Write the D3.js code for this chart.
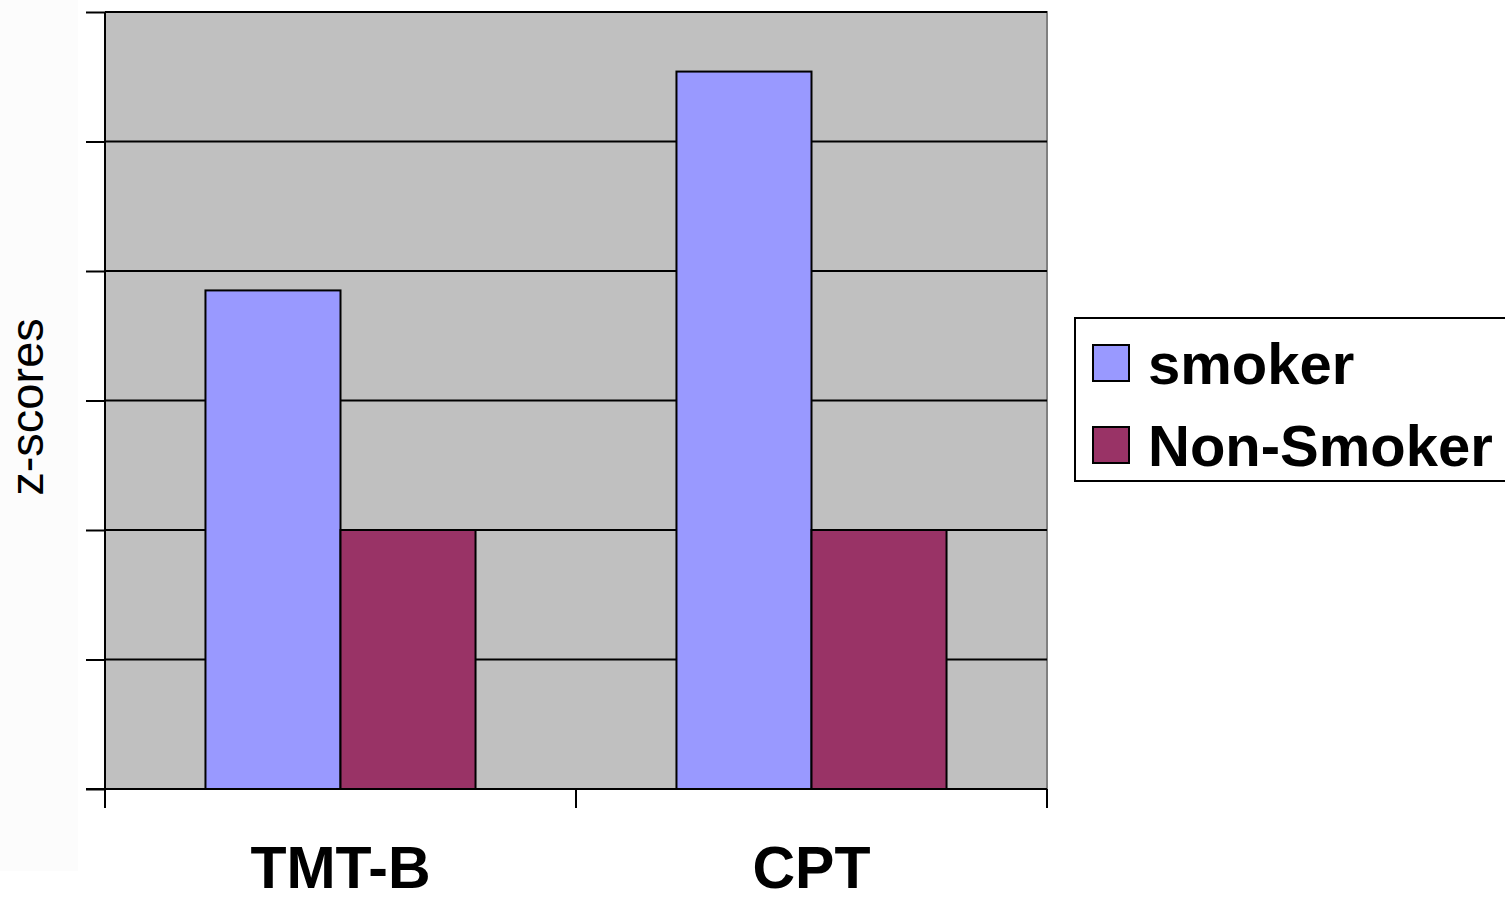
<!DOCTYPE html>
<html>
<head>
<meta charset="utf-8">
<script src="https://cdn.jsdelivr.net/npm/d3@7"></script>
<style>
  html, body { margin: 0; padding: 0; background: #ffffff; }
  svg { display: block; }
</style>
</head>
<body>
<svg id="chart" width="1505" height="901"></svg>
<script>
// Test categories and group means (z-scores)
const categories = ["TMT-B", "CPT"];
const seriesNames = ["smoker", "Non-Smoker"];
const smokerValues = [3.85, 5.54];
const nonSmokerValues = [2.0, 2.0];
const yTicks = [0, 1, 2, 3, 4, 5, 6];
const seriesColors = ["#9999FF", "#993366"];

const svg = d3.select("#chart");
const plot = { left: 105, top: 12, right: 1047, bottom: 789 };
const FONT = "Arial, 'Liberation Sans', sans-serif";

// faint panel at the far left
svg.append("rect").attr("x", 0).attr("y", 0).attr("width", 78).attr("height", 871)
  .attr("fill", "#fcfcfc");

const x0 = d3.scaleBand().domain(categories).range([plot.left, plot.right]).paddingInner(0).paddingOuter(0);
const x1 = d3.scaleBand().domain(seriesNames).range([0, x0.bandwidth()]).paddingInner(0).paddingOuter(0.744);
const y = d3.scaleLinear().domain([0, 6]).range([plot.bottom, plot.top]);

// plot background
svg.append("rect")
  .attr("x", plot.left).attr("y", plot.top)
  .attr("width", plot.right - plot.left).attr("height", plot.bottom - plot.top)
  .attr("fill", "#C0C0C0");

// plot frame (top / right)
svg.append("path")
  .attr("d", `M${plot.left},${plot.top}H${plot.right}V${plot.bottom}`)
  .attr("fill", "none").attr("stroke", "#808080").attr("stroke-width", 2);

// horizontal gridlines
svg.append("g").selectAll("line").data(yTicks.slice(1)).join("line")
  .attr("x1", plot.left).attr("x2", plot.right)
  .attr("y1", d => y(d)).attr("y2", d => y(d))
  .attr("stroke", "#000").attr("stroke-width", 2);

// bars
const rows = categories.map((c, i) => ({ cat: c, vals: [smokerValues[i], nonSmokerValues[i]] }));
const groups = svg.append("g").selectAll("g").data(rows).join("g")
  .attr("transform", d => `translate(${x0(d.cat)},0)`);
groups.selectAll("rect").data(d => d.vals.map((v, j) => ({ name: seriesNames[j], v, j }))).join("rect")
  .attr("x", d => x1(d.name))
  .attr("y", d => y(d.v))
  .attr("width", x1.bandwidth())
  .attr("height", d => y(0) - y(d.v))
  .attr("fill", d => seriesColors[d.j])
  .attr("stroke", "#000").attr("stroke-width", 2);

// y axis (no labels)
const yAxis = d3.axisLeft(y).tickValues(yTicks).tickSize(19).tickFormat("");
const gy = svg.append("g").attr("transform", `translate(${plot.left},0)`).call(yAxis);
gy.select(".domain").attr("stroke", "#000").attr("stroke-width", 2).attr("d", `M0,${plot.top}V${plot.bottom}`);
gy.selectAll(".tick line").attr("stroke", "#000").attr("stroke-width", 2);

// x axis: ticks at band boundaries, labels centred on bands
const xEdges = d3.scaleLinear().domain([0, categories.length]).range([plot.left, plot.right]);
const gx = svg.append("g").attr("transform", `translate(0,${plot.bottom})`);
gx.append("line").attr("x1", plot.left - 19).attr("x2", plot.right).attr("y1", 0).attr("y2", 0)
  .attr("stroke", "#000").attr("stroke-width", 2);
gx.selectAll("line.tk").data(d3.range(categories.length + 1)).join("line").attr("class", "tk")
  .attr("x1", d => xEdges(d)).attr("x2", d => xEdges(d))
  .attr("y1", 0).attr("y2", 19)
  .attr("stroke", "#000").attr("stroke-width", 2);
gx.selectAll("text").data(categories).join("text")
  .attr("x", d => x0(d) + x0.bandwidth() / 2)
  .attr("y", 99)
  .attr("text-anchor", "middle")
  .attr("font-family", FONT)
  .attr("font-weight", "bold")
  .attr("font-size", 59)
  .attr("fill", "#000")
  .text(d => d);

// y axis title
svg.append("text")
  .attr("transform", `translate(43,407) rotate(-90)`)
  .attr("text-anchor", "middle")
  .attr("font-family", FONT)
  .attr("font-size", 47)
  .attr("fill", "#000")
  .text("z-scores");

// legend
const leg = svg.append("g");
leg.append("rect").attr("x", 1075).attr("y", 318).attr("width", 440).attr("height", 163)
  .attr("fill", "#fff").attr("stroke", "#000").attr("stroke-width", 2);
const items = leg.selectAll("g").data(seriesNames).join("g")
  .attr("transform", (d, i) => `translate(0,${i * 82})`);
items.append("rect").attr("x", 1093).attr("y", 345).attr("width", 36).attr("height", 36)
  .attr("fill", (d, i) => seriesColors[i]).attr("stroke", "#000").attr("stroke-width", 2);
items.append("text").attr("x", 1148).attr("y", 384)
  .attr("font-family", FONT)
  .attr("font-weight", "bold")
  .attr("font-size", 58)
  .attr("fill", "#000")
  .text(d => d);
</script>
</body>
</html>
